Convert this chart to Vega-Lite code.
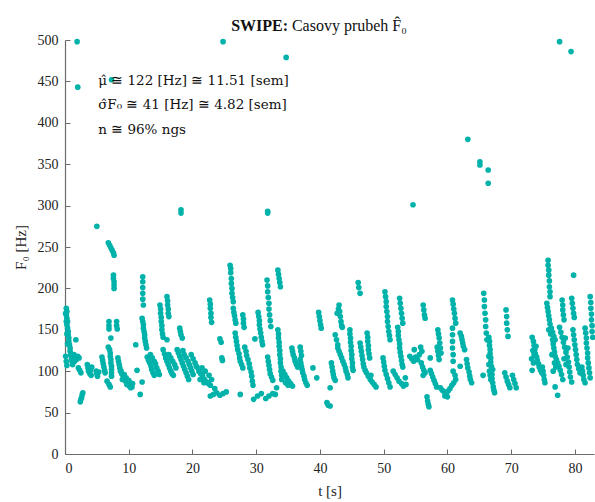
{
"$schema": "https://vega.github.io/schema/vega-lite/v6.json",
"width": 529, "height": 414,
"autosize": {"type": "none"},
"padding": {"left": 65, "top": 40, "right": 1, "bottom": 48},
"config": {
  "view": {"stroke": null},
  "font": "Liberation Serif",
  "axis": {"domainColor": "#6b6b6b", "domainWidth": 1.2, "tickColor": "#6b6b6b", "tickSize": -5, "labelFont": "Liberation Serif", "labelFontSize": 14, "labelColor": "#222222", "titleFont": "Liberation Serif", "titleFontSize": 15, "titleFontWeight": "normal", "titleColor": "#222222", "grid": false, "labelPadding": 12}
},
"layer": [
{
"data": {"values": [
{"t":1.9,"f":498},{"t":2.0,"f":443},{"t":24.8,"f":498},{"t":34.7,"f":479},{"t":7.3,"f":452},{"t":77.6,"f":498},{"t":79.4,"f":486},{"t":63.2,"f":380},{"t":65.1,"f":353},{"t":65.1,"f":349},{"t":66.4,"f":343},{"t":66.4,"f":327},{"t":54.6,"f":301},{"t":5.0,"f":275},{"t":18.2,"f":295},{"t":18.2,"f":291},{"t":31.8,"f":293},{"t":31.8,"f":291},{"t":79.8,"f":216},
{"t":0.2,"f":176},{"t":0.3,"f":172},{"t":0.2,"f":168},{"t":0.3,"f":164},{"t":0.4,"f":160},{"t":0.3,"f":156},{"t":0.4,"f":152},{"t":0.5,"f":148},
{"t":0.5,"f":144},{"t":0.6,"f":140},{"t":0.6,"f":136},{"t":0.7,"f":132},{"t":0.8,"f":128},{"t":0.8,"f":124},{"t":0.9,"f":120},{"t":1.0,"f":116},{"t":1.1,"f":112},{"t":1.2,"f":108},
{"t":0.1,"f":118},{"t":0.2,"f":112},{"t":0.3,"f":107},{"t":1.7,"f":138},{"t":0.1,"f":170},{"t":0.2,"f":160},{"t":0.3,"f":145},{"t":0.4,"f":133},
{"t":1.4,"f":120},{"t":1.6,"f":117},{"t":1.8,"f":114},{"t":2.0,"f":118},{"t":2.2,"f":116},{"t":1.5,"f":112},
{"t":2.1,"f":104},{"t":2.3,"f":101},{"t":2.5,"f":98},
{"t":2.4,"f":63},{"t":2.5,"f":66},{"t":2.6,"f":68},{"t":2.7,"f":72},{"t":2.8,"f":74},
{"t":3.5,"f":108},{"t":3.6,"f":104},{"t":3.7,"f":100},{"t":3.9,"f":97},{"t":4.0,"f":101},{"t":4.2,"f":105},{"t":4.1,"f":95},
{"t":4.9,"f":100},{"t":5.0,"f":97},{"t":5.1,"f":94},{"t":5.3,"f":99},
{"t":5.8,"f":117},{"t":5.9,"f":113},{"t":6.0,"f":109},{"t":6.1,"f":105},{"t":6.2,"f":101},{"t":6.3,"f":98},
{"t":6.6,"f":88},{"t":6.9,"f":84},{"t":7.1,"f":81},
{"t":6.8,"f":255},{"t":7.0,"f":252},{"t":7.2,"f":249},{"t":7.4,"f":246},{"t":7.6,"f":243},{"t":7.7,"f":240},
{"t":7.6,"f":216},{"t":7.6,"f":212},{"t":7.7,"f":208},{"t":7.7,"f":204},{"t":7.7,"f":200},
{"t":6.9,"f":160},{"t":6.9,"f":155},{"t":6.9,"f":151},{"t":8.1,"f":160},{"t":8.1,"f":155},{"t":8.2,"f":151},{"t":7.2,"f":140},
{"t":6.8,"f":129},{"t":7.0,"f":126},{"t":7.1,"f":122},{"t":7.1,"f":118},{"t":7.2,"f":114},{"t":7.2,"f":110},{"t":7.3,"f":106},{"t":7.3,"f":102},{"t":7.3,"f":98},{"t":7.3,"f":94},
{"t":8.3,"f":116},{"t":8.4,"f":112},{"t":8.5,"f":108},{"t":8.6,"f":104},{"t":8.8,"f":100},
{"t":8.7,"f":100},{"t":8.9,"f":97},{"t":9.1,"f":95},{"t":9.2,"f":92},{"t":9.4,"f":90},{"t":9.5,"f":88},{"t":9.6,"f":92},{"t":9.8,"f":86},{"t":9.9,"f":84},{"t":10.1,"f":82},{"t":10.2,"f":86},{"t":10.4,"f":84},{"t":10.5,"f":81},{"t":10.6,"f":85},{"t":10.0,"f":89},{"t":9.7,"f":84},{"t":9.3,"f":96},{"t":10.3,"f":80},{"t":9.0,"f":90},
{"t":11.3,"f":101},{"t":11.8,"f":72},{"t":12.1,"f":87},{"t":11.1,"f":132},
{"t":12.2,"f":214},{"t":12.2,"f":208},{"t":12.2,"f":201},{"t":12.2,"f":194},{"t":12.2,"f":187},{"t":12.3,"f":180},
{"t":12.1,"f":164},{"t":12.2,"f":160},{"t":12.3,"f":156},{"t":12.3,"f":152},{"t":12.4,"f":148},{"t":12.5,"f":144},{"t":12.5,"f":140},{"t":12.6,"f":136},{"t":12.7,"f":132},{"t":12.8,"f":128},
{"t":12.9,"f":117},{"t":13.1,"f":113},{"t":13.3,"f":110},{"t":13.5,"f":106},{"t":13.6,"f":102},{"t":13.8,"f":98},{"t":14.0,"f":95},
{"t":13.4,"f":120},{"t":13.7,"f":116},{"t":14.0,"f":112},{"t":14.2,"f":109},{"t":14.4,"f":104},{"t":14.6,"f":100},{"t":14.8,"f":96},
{"t":14.9,"f":180},{"t":15.0,"f":175},{"t":15.0,"f":170},{"t":15.1,"f":165},{"t":15.1,"f":160},{"t":15.2,"f":155},{"t":15.2,"f":150},{"t":15.3,"f":145},{"t":15.4,"f":141},
{"t":16.0,"f":190},{"t":16.1,"f":185},{"t":16.1,"f":180},{"t":16.2,"f":175},{"t":16.2,"f":170},{"t":16.3,"f":166},{"t":16.0,"f":138},
{"t":15.4,"f":126},{"t":15.6,"f":121},{"t":15.8,"f":116},{"t":16.0,"f":112},{"t":16.2,"f":108},{"t":16.4,"f":104},{"t":16.6,"f":100},{"t":16.8,"f":97},{"t":17.0,"f":95},{"t":16.3,"f":120},{"t":16.6,"f":116},{"t":16.9,"f":112},{"t":17.2,"f":108},{"t":17.4,"f":104},
{"t":18.0,"f":152},{"t":18.1,"f":148},{"t":18.2,"f":144},{"t":18.4,"f":140},
{"t":17.6,"f":126},{"t":17.8,"f":122},{"t":18.0,"f":118},{"t":18.2,"f":114},{"t":18.4,"f":110},{"t":18.6,"f":106},{"t":18.8,"f":102},{"t":19.0,"f":98},{"t":19.2,"f":94},{"t":19.4,"f":90},{"t":18.5,"f":125},{"t":18.7,"f":120},{"t":19.0,"f":116},{"t":19.3,"f":112},{"t":19.5,"f":108},{"t":19.7,"f":104},{"t":19.9,"f":100},{"t":20.1,"f":96},
{"t":19.8,"f":120},{"t":20.1,"f":115},{"t":20.4,"f":110},{"t":20.6,"f":106},{"t":21.5,"f":104},{"t":22.0,"f":100},{"t":22.6,"f":95},{"t":23.0,"f":90},
{"t":20.7,"f":105},{"t":21.0,"f":100},{"t":21.3,"f":97},{"t":21.6,"f":94},{"t":21.9,"f":90},{"t":22.2,"f":87},{"t":22.5,"f":85},{"t":22.8,"f":83},{"t":21.2,"f":90},{"t":21.8,"f":86},
{"t":22.7,"f":186},{"t":22.8,"f":181},{"t":22.8,"f":176},{"t":22.9,"f":170},{"t":22.9,"f":165},{"t":23.0,"f":159},
{"t":24.3,"f":139},{"t":24.6,"f":116},{"t":24.5,"f":135},{"t":24.7,"f":113},
{"t":22.8,"f":70},{"t":23.3,"f":72},{"t":23.8,"f":74},{"t":24.3,"f":71},{"t":24.8,"f":73},{"t":25.3,"f":75},{"t":23.5,"f":79},
{"t":25.9,"f":228},{"t":26.0,"f":224},{"t":26.0,"f":219},{"t":26.1,"f":212},{"t":26.1,"f":206},{"t":26.2,"f":200},{"t":26.2,"f":194},{"t":26.3,"f":189},{"t":26.4,"f":184},
{"t":26.4,"f":176},{"t":26.5,"f":171},{"t":26.6,"f":167},{"t":26.7,"f":162},{"t":26.8,"f":158},
{"t":26.7,"f":146},{"t":26.8,"f":141},{"t":26.9,"f":136},{"t":27.0,"f":131},{"t":27.1,"f":126},{"t":27.3,"f":121},{"t":27.4,"f":116},{"t":27.5,"f":112},{"t":27.7,"f":108},{"t":27.9,"f":104},
{"t":27.5,"f":72},
{"t":27.9,"f":168},{"t":28.0,"f":163},{"t":28.0,"f":158},{"t":28.1,"f":153},
{"t":28.2,"f":129},{"t":28.4,"f":124},{"t":28.5,"f":119},{"t":28.7,"f":114},{"t":28.9,"f":109},{"t":29.0,"f":104},{"t":29.2,"f":99},{"t":29.3,"f":94},{"t":29.4,"f":88},{"t":29.5,"f":83},
{"t":29.8,"f":139},
{"t":30.3,"f":171},{"t":30.4,"f":166},{"t":30.5,"f":161},{"t":30.5,"f":156},{"t":30.6,"f":151},{"t":30.7,"f":146},{"t":30.8,"f":141},{"t":30.9,"f":136},{"t":31.0,"f":132},
{"t":31.7,"f":210},{"t":31.8,"f":203},{"t":31.8,"f":196},{"t":31.9,"f":189},{"t":32.0,"f":182},{"t":32.0,"f":175},{"t":32.1,"f":168},{"t":32.2,"f":161},{"t":32.3,"f":154},
{"t":33.4,"f":222},{"t":33.5,"f":217},{"t":33.6,"f":212},{"t":33.7,"f":207},{"t":33.8,"f":202},
{"t":33.4,"f":150},{"t":33.5,"f":145},{"t":33.5,"f":140},{"t":33.6,"f":135},{"t":33.6,"f":130},{"t":33.7,"f":125},{"t":33.7,"f":120},{"t":33.8,"f":115},{"t":33.8,"f":110},{"t":33.9,"f":105},{"t":33.9,"f":100},{"t":34.0,"f":95},{"t":34.0,"f":90},
{"t":31.8,"f":117},{"t":31.9,"f":112},{"t":32.0,"f":107},{"t":32.1,"f":102},{"t":32.2,"f":97},{"t":32.4,"f":93},{"t":32.6,"f":89},
{"t":29.6,"f":66},{"t":30.2,"f":70},{"t":30.8,"f":73},{"t":31.5,"f":67},{"t":32.0,"f":70},{"t":32.6,"f":73},{"t":33.0,"f":72},{"t":33.2,"f":80},
{"t":34.2,"f":100},{"t":34.5,"f":96},{"t":34.8,"f":92},{"t":35.1,"f":88},{"t":35.4,"f":85},{"t":35.7,"f":82},{"t":34.6,"f":86},{"t":35.0,"f":83},
{"t":35.6,"f":128},{"t":35.7,"f":124},{"t":35.8,"f":120},{"t":36.0,"f":116},{"t":36.1,"f":112},{"t":36.3,"f":108},{"t":36.5,"f":105},
{"t":36.9,"f":129},{"t":37.0,"f":124},{"t":37.1,"f":119},
{"t":36.9,"f":114},{"t":37.0,"f":110},{"t":37.1,"f":106},{"t":37.2,"f":102},{"t":37.3,"f":98},{"t":37.5,"f":94},{"t":37.6,"f":90},{"t":37.8,"f":86},{"t":38.0,"f":83},
{"t":38.9,"f":104},{"t":39.5,"f":92},
{"t":39.8,"f":171},{"t":39.9,"f":166},{"t":40.0,"f":161},{"t":40.1,"f":156},{"t":40.2,"f":152},
{"t":41.6,"f":80},{"t":41.1,"f":62},{"t":41.3,"f":59},{"t":41.6,"f":58},
{"t":41.8,"f":110},{"t":41.9,"f":105},{"t":42.0,"f":100},{"t":42.1,"f":96},{"t":42.2,"f":92},{"t":42.4,"f":89},
{"t":42.7,"f":170},{"t":42.9,"f":175},{"t":43.0,"f":180},{"t":43.1,"f":172},{"t":43.2,"f":166},{"t":43.3,"f":160},{"t":43.4,"f":155},{"t":43.5,"f":153},
{"t":42.4,"f":144},{"t":42.6,"f":138},{"t":42.8,"f":132},
{"t":42.8,"f":128},{"t":43.0,"f":124},{"t":43.2,"f":120},{"t":43.4,"f":116},{"t":43.6,"f":112},{"t":43.8,"f":108},{"t":44.0,"f":104},{"t":44.1,"f":100},{"t":44.3,"f":96},{"t":44.4,"f":92},
{"t":44.7,"f":150},{"t":44.7,"f":145},{"t":44.8,"f":140},{"t":44.8,"f":135},{"t":44.9,"f":130},{"t":44.9,"f":125},{"t":45.0,"f":120},{"t":45.0,"f":115},{"t":45.1,"f":110},{"t":45.1,"f":105},{"t":45.2,"f":101},
{"t":46.0,"f":207},{"t":46.1,"f":201},{"t":46.3,"f":194},
{"t":46.3,"f":134},{"t":46.4,"f":129},{"t":46.5,"f":124},{"t":46.6,"f":119},{"t":46.7,"f":114},{"t":46.8,"f":109},{"t":46.9,"f":105},{"t":47.1,"f":101},
{"t":47.4,"f":146},{"t":47.5,"f":141},{"t":47.5,"f":136},{"t":47.6,"f":131},{"t":47.6,"f":126},{"t":47.7,"f":121},{"t":47.8,"f":116},
{"t":47.3,"f":98},{"t":47.6,"f":94},{"t":47.9,"f":90},{"t":48.2,"f":87},{"t":48.5,"f":84},{"t":48.8,"f":81},{"t":48.0,"f":95},
{"t":50.2,"f":196},{"t":50.3,"f":190},{"t":50.4,"f":184},{"t":50.4,"f":178},{"t":50.5,"f":172},{"t":50.6,"f":166},{"t":50.6,"f":160},{"t":50.7,"f":154},{"t":50.8,"f":148},{"t":50.9,"f":143},{"t":51.0,"f":138},
{"t":49.9,"f":116},{"t":50.0,"f":111},{"t":50.1,"f":106},{"t":50.2,"f":101},{"t":50.4,"f":96},{"t":50.6,"f":91},{"t":50.8,"f":86},{"t":51.0,"f":81},
{"t":52.5,"f":188},{"t":52.6,"f":182},{"t":52.7,"f":176},{"t":52.8,"f":170},{"t":52.9,"f":164},{"t":53.0,"f":158},
{"t":52.2,"f":153},{"t":52.3,"f":148},{"t":52.3,"f":143},{"t":52.4,"f":138},{"t":52.5,"f":133},{"t":52.5,"f":128},{"t":52.6,"f":123},{"t":52.7,"f":118},{"t":52.8,"f":113},{"t":52.9,"f":108},{"t":53.0,"f":105},
{"t":51.5,"f":100},{"t":51.8,"f":96},{"t":52.1,"f":92},{"t":52.4,"f":88},{"t":52.8,"f":85},{"t":53.1,"f":82},{"t":53.5,"f":84},{"t":53.4,"f":92},
{"t":54.1,"f":118},{"t":54.4,"f":115},{"t":54.7,"f":112},{"t":55.0,"f":117},{"t":55.3,"f":114},{"t":55.6,"f":120},{"t":55.9,"f":110},{"t":56.1,"f":105},{"t":56.3,"f":101},{"t":56.5,"f":98},{"t":54.8,"f":126},
{"t":56.2,"f":180},{"t":56.3,"f":174},{"t":56.4,"f":168},{"t":56.5,"f":164},
{"t":55.8,"f":129},{"t":56.0,"f":124},{"t":56.2,"f":95},{"t":57.3,"f":116},
{"t":56.8,"f":69},{"t":56.9,"f":64},{"t":57.0,"f":60},{"t":57.1,"f":57},
{"t":57.3,"f":101},{"t":57.5,"f":97},{"t":57.7,"f":93},{"t":57.9,"f":89},{"t":58.1,"f":85},{"t":58.3,"f":81},
{"t":58.5,"f":150},{"t":58.6,"f":145},{"t":58.7,"f":140},{"t":58.8,"f":134},{"t":58.9,"f":128},{"t":59.0,"f":122},
{"t":58.4,"f":129},{"t":58.5,"f":124},{"t":58.6,"f":119},{"t":58.7,"f":114},
{"t":58.9,"f":80},{"t":59.2,"f":77},{"t":59.5,"f":75},{"t":59.8,"f":73},{"t":60.1,"f":76},{"t":60.4,"f":79},{"t":60.7,"f":83},{"t":61.0,"f":86},{"t":61.3,"f":90},{"t":59.6,"f":70},{"t":60.0,"f":69},
{"t":60.8,"f":186},{"t":60.9,"f":181},{"t":61.0,"f":175},{"t":61.1,"f":170},{"t":61.2,"f":164},{"t":61.3,"f":158},
{"t":60.8,"f":152},{"t":60.8,"f":144},{"t":60.8,"f":136},{"t":60.8,"f":128},{"t":60.9,"f":120},{"t":60.9,"f":112},{"t":60.9,"f":100},{"t":61.2,"f":95},
{"t":62.0,"f":146},{"t":62.2,"f":142},{"t":62.3,"f":138},{"t":62.4,"f":134},{"t":62.5,"f":130},{"t":62.7,"f":126},{"t":62.0,"f":106},
{"t":63.0,"f":114},{"t":63.1,"f":109},{"t":63.2,"f":104},{"t":63.4,"f":99},{"t":63.5,"f":94},{"t":63.6,"f":90},{"t":63.8,"f":86},
{"t":65.7,"f":194},{"t":65.8,"f":186},{"t":65.8,"f":178},{"t":65.9,"f":170},{"t":66.0,"f":162},{"t":66.0,"f":154},{"t":66.1,"f":146},{"t":66.2,"f":138},
{"t":65.6,"f":95},
{"t":66.5,"f":141},{"t":66.6,"f":136},{"t":66.6,"f":131},{"t":66.7,"f":126},{"t":66.7,"f":121},{"t":66.8,"f":116},{"t":66.8,"f":111},{"t":66.9,"f":106},{"t":66.9,"f":101},{"t":67.0,"f":96},{"t":67.0,"f":91},{"t":67.1,"f":86},{"t":67.2,"f":81},{"t":67.3,"f":77},{"t":67.4,"f":74},{"t":66.6,"f":100},{"t":66.7,"f":95},{"t":66.8,"f":90},{"t":66.5,"f":118},{"t":66.5,"f":108},{"t":67.1,"f":102},
{"t":69.2,"f":174},{"t":69.3,"f":166},{"t":69.3,"f":158},{"t":69.4,"f":150},{"t":69.5,"f":142},
{"t":69.0,"f":98},{"t":69.2,"f":93},{"t":69.4,"f":88},{"t":69.6,"f":84},{"t":69.8,"f":80},{"t":70.2,"f":95},{"t":70.4,"f":90},{"t":70.6,"f":85},{"t":70.8,"f":80},
{"t":73.3,"f":141},{"t":73.5,"f":136},{"t":73.6,"f":131},{"t":73.7,"f":126},{"t":73.8,"f":121},{"t":74.0,"f":117},{"t":74.1,"f":113},{"t":74.3,"f":109},{"t":74.4,"f":105},{"t":74.6,"f":101},{"t":74.8,"f":98},{"t":73.4,"f":125},{"t":73.6,"f":120},{"t":73.9,"f":130},{"t":73.3,"f":101},{"t":73.2,"f":115},{"t":73.5,"f":110},
{"t":74.9,"f":105},{"t":75.0,"f":100},{"t":75.1,"f":95},{"t":75.2,"f":90},{"t":75.3,"f":86},
{"t":75.8,"f":234},{"t":75.8,"f":228},{"t":75.9,"f":222},{"t":75.9,"f":216},{"t":76.0,"f":209},{"t":76.0,"f":202},{"t":76.1,"f":196},{"t":76.1,"f":190},
{"t":75.6,"f":182},{"t":75.7,"f":177},{"t":75.8,"f":172},{"t":75.9,"f":167},{"t":76.0,"f":162},{"t":76.1,"f":157},{"t":76.3,"f":152},{"t":76.5,"f":147},{"t":76.7,"f":142},{"t":76.9,"f":138},{"t":75.9,"f":150},{"t":76.2,"f":145},
{"t":76.5,"f":138},{"t":76.6,"f":133},{"t":76.7,"f":128},{"t":76.8,"f":123},{"t":76.9,"f":118},{"t":77.1,"f":114},{"t":77.3,"f":110},{"t":77.5,"f":106},{"t":77.7,"f":101},{"t":77.9,"f":96},{"t":78.1,"f":90},{"t":76.8,"f":110},{"t":77.0,"f":105},{"t":76.4,"f":120},{"t":76.6,"f":100},
{"t":76.9,"f":81},{"t":77.3,"f":71},
{"t":78.0,"f":186},{"t":78.1,"f":180},{"t":78.1,"f":174},{"t":78.2,"f":168},{"t":78.3,"f":162},
{"t":77.6,"f":153},{"t":77.8,"f":147},{"t":78.0,"f":141},{"t":78.2,"f":135},{"t":78.4,"f":129},{"t":78.6,"f":123},{"t":78.8,"f":117},{"t":79.0,"f":111},{"t":79.1,"f":105},{"t":79.2,"f":99},{"t":79.3,"f":93},{"t":79.5,"f":87},{"t":78.5,"f":140},{"t":78.9,"f":128},{"t":78.3,"f":115},{"t":78.6,"f":108},
{"t":79.5,"f":188},{"t":79.6,"f":182},{"t":79.7,"f":176},{"t":79.8,"f":170},{"t":79.9,"f":165},
{"t":79.7,"f":150},{"t":79.8,"f":144},{"t":79.9,"f":138},{"t":80.0,"f":132},{"t":80.1,"f":126},{"t":80.2,"f":120},{"t":80.3,"f":114},{"t":80.4,"f":108},{"t":80.6,"f":103},{"t":80.8,"f":98},
{"t":81.1,"f":105},{"t":81.2,"f":100},{"t":81.3,"f":95},{"t":81.4,"f":90},{"t":81.6,"f":86},
{"t":81.6,"f":152},{"t":81.7,"f":146},{"t":81.8,"f":140},{"t":81.8,"f":134},{"t":81.9,"f":128},{"t":82.0,"f":122},{"t":82.0,"f":116},{"t":82.1,"f":110},{"t":82.2,"f":104},{"t":82.3,"f":98},{"t":82.4,"f":92},
{"t":82.4,"f":190},{"t":82.5,"f":183},{"t":82.5,"f":176},{"t":82.6,"f":169},{"t":82.6,"f":162},{"t":82.7,"f":155},{"t":82.7,"f":148},{"t":82.8,"f":141}
]},
"mark": {"type": "circle", "size": 32, "color": "#00b2a9", "opacity": 1},
"encoding": {
  "x": {"field": "t", "type": "quantitative", "scale": {"domain": [0, 83], "nice": false}, "axis": {"values": [0,10,20,30,40,50,60,70,80], "title": "t [s]", "titlePadding": 8}},
  "y": {"field": "f", "type": "quantitative", "scale": {"domain": [0, 500], "nice": false}, "axis": {"values": [0,50,100,150,200,250,300,350,400,450,500], "title": "F₀ [Hz]", "titlePadding": 9}}
}
},
{"data": {"values": [{}]}, "mark": {"type": "text", "align": "right", "baseline": "alphabetic", "fontSize": 16, "fontWeight": "bold", "font": "Liberation Serif", "color": "#111111"},
 "encoding": {"x": {"datum": 35.0}, "y": {"datum": 511}, "text": {"value": "SWIPE:"}}},
{"data": {"values": [{}]}, "mark": {"type": "text", "align": "left", "baseline": "alphabetic", "fontSize": 16, "font": "Liberation Serif", "color": "#111111"},
 "encoding": {"x": {"datum": 35.6}, "y": {"datum": 511}, "text": {"value": "Casovy prubeh F̂₀"}}},
{"data": {"values": [{}]}, "mark": {"type": "text", "align": "left", "baseline": "alphabetic", "fontSize": 13.5, "font": "DejaVu Serif", "color": "#111111"},
 "encoding": {"x": {"datum": 5.2}, "y": {"datum": 446}, "text": {"value": "μ̂ ≅ 122 [Hz] ≅ 11.51 [sem]"}}},
{"data": {"values": [{}]}, "mark": {"type": "text", "align": "left", "baseline": "alphabetic", "fontSize": 13.5, "font": "DejaVu Serif", "color": "#111111"},
 "encoding": {"x": {"datum": 5.2}, "y": {"datum": 417}, "text": {"value": "σ̂F₀ ≅ 41 [Hz] ≅ 4.82 [sem]"}}},
{"data": {"values": [{}]}, "mark": {"type": "text", "align": "left", "baseline": "alphabetic", "fontSize": 13.5, "font": "DejaVu Serif", "color": "#111111"},
 "encoding": {"x": {"datum": 5.2}, "y": {"datum": 387}, "text": {"value": "n ≅ 96% ngs"}}}
]
}
